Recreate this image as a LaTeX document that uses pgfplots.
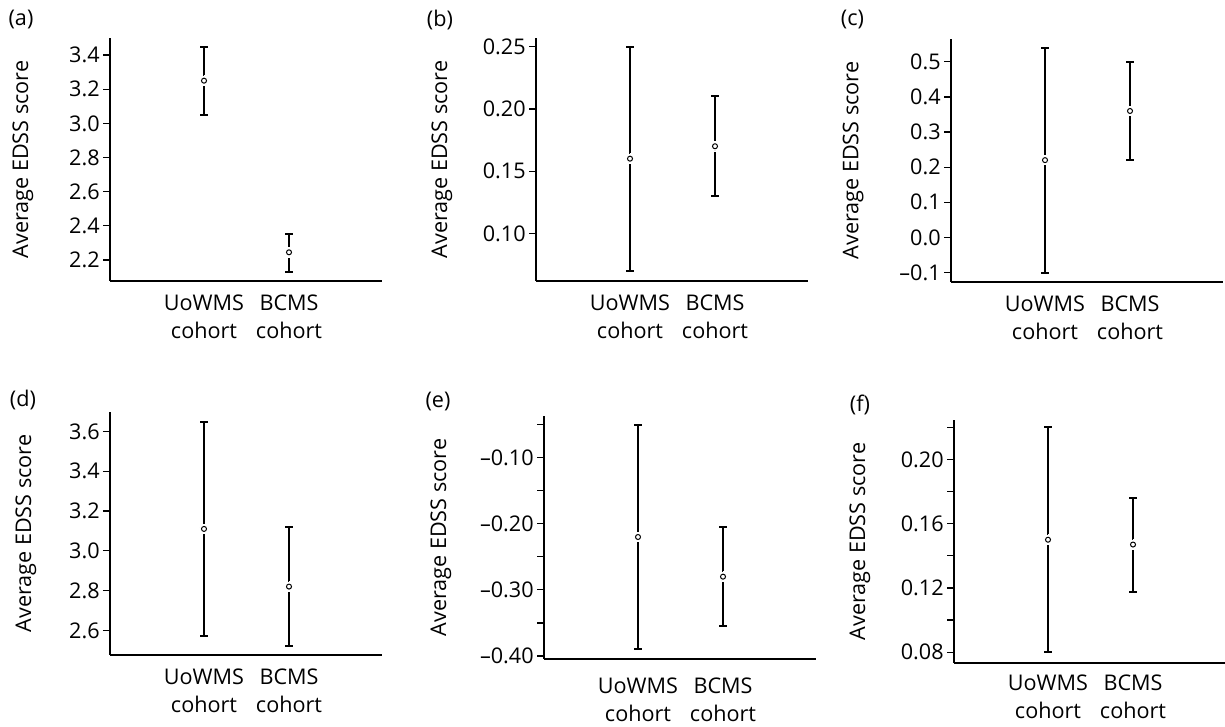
\documentclass[border=0pt]{standalone}
\usepackage{fontspec}
\setmainfont{Open Sans}
\usepackage{pgfplots}
\usepackage{pgfplotstable}
\pgfplotsset{compat=1.18}

\pgfplotstableread{
x y lo hi
1 3.25 3.05 3.45
2 2.245 2.13 2.35
}\tabA
\pgfplotstableread{
x y lo hi
1 0.160 0.070 0.250
2 0.170 0.130 0.210
}\tabB
\pgfplotstableread{
x y lo hi
1 0.22 -0.10 0.54
2 0.36 0.22 0.50
}\tabC
\pgfplotstableread{
x y lo hi
1 3.11 2.57 3.65
2 2.82 2.52 3.12
}\tabD
\pgfplotstableread{
x y lo hi
1 -0.22 -0.39 -0.05
2 -0.28 -0.355 -0.205
}\tabE
\pgfplotstableread{
x y lo hi
1 0.150 0.080 0.220
2 0.147 0.1175 0.176
}\tabF

\newcommand{\fnt}{\fontsize{10.8}{14}\selectfont}

\pgfplotsset{
  panel/.style={
    scale only axis, width=136pt, height=121.5pt,
    anchor=south west,
    axis x line*=bottom, axis y line*=left,
    axis line style={-, line width=1pt, black},
    xmin=-0.106, xmax=3.094,
    xtick={1,2}, xticklabels={UoWMS\\cohort,BCMS\\cohort},
    xtick style={draw=none},
    xticklabel style={align=center, font=\fnt},
    yticklabel style={font=\fnt, inner xsep=1.5pt},
    tick align=outside,
    major tick length=3.5pt, minor tick length=3.5pt,
    ytick style={line width=0.6pt, black},
    minor tick style={line width=0.6pt, black},
    ylabel={Average EDSS score},
    ylabel style={font=\fnt, anchor=center},
    clip=false,
  },
  ylpos/.style={ylabel style={at={(axis description cs:#1,0.5)}}},
  ebar/.style={black, only marks, mark=none,
    error bars/.cd, y dir=both, y explicit,
    error bar style={line width=1pt, black},
    error mark options={rotate=90, line width=1pt, mark size=1.8pt, black}},
  halo/.style={only marks, mark=*, mark size=2.4pt, mark options={fill=white, draw=white, line width=0pt}},
  meanmk/.style={only marks, mark=*, mark size=1.25pt, mark options={draw=black, line width=0.5pt, fill=white}},
}

\newcommand{\panelplots}[1]{%
  \addplot[ebar] table[x=x, y=y, y error plus expr=\thisrow{hi}-\thisrow{y}, y error minus expr=\thisrow{y}-\thisrow{lo}]{#1};
  \addplot[halo] table[x=x, y=y]{#1};
  \addplot[meanmk] table[x=x, y=y]{#1};
}

\begin{document}
\begin{tikzpicture}
\useasboundingbox (0,0) rectangle (612.5pt,363.5pt);

% (a)
\begin{axis}[panel, at={(55pt,223pt)}, ylpos=-0.320,
  ymin=2.077, ymax=3.5,
  ytick={2.2,2.4,2.6,2.8,3.0,3.2,3.4},
  yticklabels={2.2,2.4,2.6,2.8,3.0,3.2,3.4}]
\panelplots{\tabA}
\end{axis}

% (b)
\begin{axis}[panel, at={(268pt,223pt)}, ylpos=-0.346,
  ymin=0.0617, ymax=0.257,
  ytick={0.10,0.15,0.20,0.25},
  yticklabels={0.10,0.15,0.20,0.25}]
\panelplots{\tabB}
\end{axis}

% (c)
\begin{axis}[panel, at={(475.5pt,222.5pt)}, ylpos=-0.360,
  ymin=-0.127, ymax=0.565,
  ytick={-0.1,0,0.1,0.2,0.3,0.4,0.5},
  yticklabels={–0.1,0.0,0.1,0.2,0.3,0.4,0.5}]
\panelplots{\tabC}
\end{axis}

% (d)
\begin{axis}[panel, at={(55pt,36pt)}, ylpos=-0.309,
  ymin=2.476, ymax=3.698,
  ytick={2.6,2.8,3.0,3.2,3.4,3.6},
  yticklabels={2.6,2.8,3.0,3.2,3.4,3.6}]
\panelplots{\tabD}
\end{axis}

% (e)
\begin{axis}[panel, at={(272pt,34pt)}, ylpos=-0.379,
  ymin=-0.4045, ymax=-0.037,
  ytick={-0.4,-0.3,-0.2,-0.1},
  yticklabels={–0.40,–0.30,–0.20,–0.10},
  minor ytick={-0.35,-0.25,-0.15,-0.05},
  xticklabel style={yshift=-2.5pt}]
\panelplots{\tabE}
\end{axis}

% (f)
\begin{axis}[panel, at={(477pt,32pt)}, ylpos=-0.346,
  ymin=0.0733, ymax=0.2245,
  ytick={0.08,0.12,0.16,0.20},
  yticklabels={0.08,0.12,0.16,0.20},
  minor ytick={0.10,0.14,0.18,0.22},
  xticklabel style={yshift=1pt}]
\panelplots{\tabF}
\end{axis}

\node[font=\fnt] at (10.5pt,353.5pt) {(a)};
\node[font=\fnt] at (220pt,353.5pt) {(b)};
\node[font=\fnt] at (426.25pt,353.5pt) {(c)};
\node[font=\fnt] at (11.5pt,163.5pt) {(d)};
\node[font=\fnt] at (219pt,162.5pt) {(e)};
\node[font=\fnt] at (430pt,161pt) {(f)};
\end{tikzpicture}
\end{document}
